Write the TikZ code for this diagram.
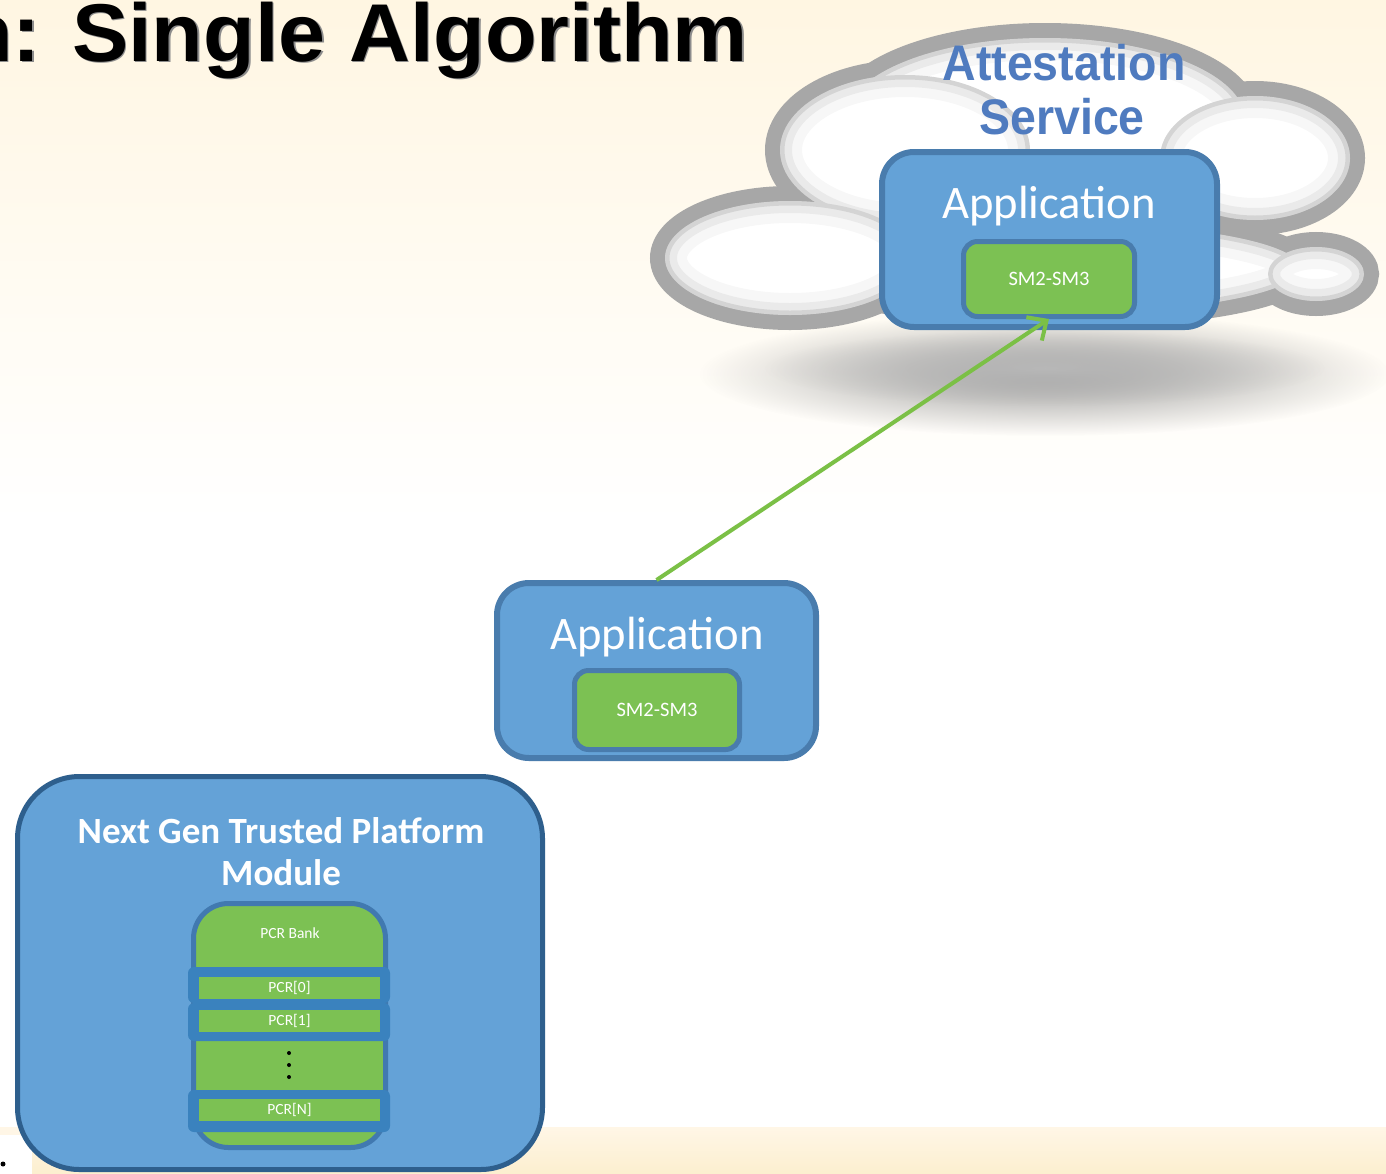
\documentclass[tikz,border=0pt]{standalone}
\usepackage{fontspec}
\usepackage{graphicx}
\usetikzlibrary{arrows.meta,fadings}
\newfontfamily\headfont{Liberation Sans}
\newfontfamily\bodyfont{Carlito}

\definecolor{boxblue}{HTML}{64A2D7}
\definecolor{appedge}{HTML}{497CAD}
\definecolor{tpmedge}{HTML}{2E5F8D}
\definecolor{chipgreen}{HTML}{7CC153}
\definecolor{bandblue}{HTML}{3A82BE}
\definecolor{bankedge}{HTML}{4179B0}
\definecolor{linkgreen}{HTML}{7BC046}
\definecolor{cloudgray}{HTML}{A7A7A7}
\definecolor{attestblue}{HTML}{4F7BBF}
\definecolor{cream}{HTML}{FFF6E2}
\definecolor{creamtop}{HTML}{FFF6E6}
\definecolor{creamband}{HTML}{FCEFCF}

\tikzfading[name=shadowfade, inner color=transparent!0, outer color=transparent!100]

\tikzset{
  appbox/.style={draw=appedge, line width=6pt, fill=boxblue, rounded corners=32pt, inner sep=0pt},
  chip/.style={draw=appedge, line width=5pt, fill=chipgreen, rounded corners=14pt, inner sep=0pt,
    text=white, font=\bodyfont\fontsize{20.5}{24}\selectfont},
  applabel/.style={anchor=base, inner sep=0pt, text=white, font=\bodyfont\fontsize{46.6}{56}\selectfont},
  tpmbox/.style={draw=tpmedge, line width=5pt, fill=boxblue, rounded corners=62pt, inner sep=0pt},
  tpmlabel/.style={anchor=base, inner sep=0pt, text=white, font=\bodyfont\bfseries\fontsize{37}{42}\selectfont},
  bankbox/.style={draw=bankedge, line width=5pt, fill=chipgreen, rounded corners=35pt, inner sep=0pt},
  band/.style={fill=bandblue, rounded corners=6pt, inner sep=0pt, minimum width=202pt},
  pcrcell/.style={fill=chipgreen, inner sep=0pt, minimum width=181pt, minimum height=22pt,
    text=white, font=\bodyfont\fontsize{15.5}{18}\selectfont},
  attest/.style={anchor=base, inner sep=0pt, text=attestblue, font=\headfont\bfseries\fontsize{50}{54}\selectfont},
  link/.style={draw=linkgreen, line width=4pt, -{Straight Barb[length=15pt, width=28pt]}},
}

\begin{document}
\begin{tikzpicture}[x=1pt, y=-1pt]
  \useasboundingbox (0,0) rectangle (1386,1173);
  \clip (0,0) rectangle (1386,1173);

  % page background
  \fill[white] (0,0) rectangle (1386,1173);
  \shade[top color=cream, bottom color=white] (0,0) rectangle (1386,520);
  \shade[top color=creamtop, bottom color=creamband] (32,1127) rectangle (1386,1173);
  \fill[creamtop] (0,1127) rectangle (32,1135);
  \fill[black] (3,1164) circle (2.5);

  % heading
  \node[anchor=base east, inner sep=0pt, text=black!45,
        font=\headfont\bfseries\fontsize{82}{90}\selectfont] (titleshade) at (749.5,62.5)
        {\scalebox{1.03}[1]{n: Single Algorithm}};
  \node[anchor=base east, inner sep=0pt, text=black,
        font=\headfont\bfseries\fontsize{82}{90}\selectfont] (title) at (748,61)
        {\scalebox{1.03}[1]{n: Single Algorithm}};

  % shadow under the cloud
  \fill[black!40, path fading=shadowfade] (1045,374) ellipse [x radius=345, y radius=62];
  \fill[black!28, path fading=shadowfade] (1045,368) ellipse [x radius=280, y radius=38];

  % cloud: outline pass, then white lobes with soft seams
  \foreach \cx/\cy/\rx/\ry in {1045/120/200/82, 905/150/125/75, 1255/158/95/62,
                               1060/268/240/45, 790/258/125/57, 1316/274/48/27}
    \draw[cloudgray, fill=cloudgray, line width=30pt] (\cx,\cy) ellipse [x radius=\rx, y radius=\ry];
  \foreach \cx/\cy/\rx/\ry in {1045/120/200/82, 905/150/125/75, 1255/158/95/62,
                               1060/268/240/45, 790/258/125/57, 1316/274/48/27}
  {
    \fill[white] (\cx,\cy) ellipse [x radius=\rx, y radius=\ry];
    \begin{scope}
      \clip (\cx,\cy) ellipse [x radius=\rx, y radius=\ry];
      \draw[black, opacity=0.03, line width=44pt] (\cx,\cy) ellipse [x radius=\rx, y radius=\ry];
      \draw[black, opacity=0.05, line width=24pt] (\cx,\cy) ellipse [x radius=\rx, y radius=\ry];
      \draw[black, opacity=0.09, line width=9pt] (\cx,\cy) ellipse [x radius=\rx, y radius=\ry];
    \end{scope}
  }

  \node[attest] (attest1) at (1064,80) {\scalebox{0.93}[1]{Attestation}};
  \node[attest] (attest2) at (1062,134) {\scalebox{0.93}[1]{Service}};

  % service-side application
  \node[appbox, minimum width=335pt, minimum height=175pt] (topapp) at (1049.5,239.5) {};
  \node[applabel] (topapptext) at (1049,218) {Application};
  \node[chip, minimum width=171pt, minimum height=75pt] (topchip) at (1049,279) {SM2-SM3};

  % platform-side application
  \node[appbox, minimum width=319pt, minimum height=175pt] (midapp) at (656.5,670.5) {};
  \node[applabel] (midapptext) at (657,649) {Application};
  \node[chip, minimum width=165pt, minimum height=79pt] (midchip) at (657,710) {SM2-SM3};

  % TPM with its PCR bank
  \node[tpmbox, minimum width=525pt, minimum height=393pt] (tpm) at (280,973) {};
  \node[tpmlabel] (tpmtext1) at (281,843) {Next Gen Trusted Platform};
  \node[tpmlabel] (tpmtext2) at (281,885) {Module};

  \node[bankbox, minimum width=192pt, minimum height=244pt] (bank) at (289.5,1025.5) {};
  \node[anchor=center, inner sep=0pt, text=white, font=\bodyfont\fontsize{15.5}{18}\selectfont]
       (banktext) at (290,933) {PCR Bank};

  \node[band, minimum height=36pt] (band0) at (289,985) {};
  \node[band, minimum height=38pt] (band1) at (289,1022) {};
  \node[band, minimum height=42pt] (bandN) at (289,1111) {};
  \node[pcrcell] (pcr0) at (289.5,988) {PCR[0]};
  \node[pcrcell] (pcr1) at (289.5,1021) {PCR[1]};
  \node[pcrcell] (pcrN) at (289.5,1110) {PCR[N]};
  \foreach \y in {1053,1065,1077}
    \fill[black] (289,\y) circle (2);

  % measurement report path
  \draw[link] (midapp.north) -- (topchip.south);
\end{tikzpicture}
\end{document}
